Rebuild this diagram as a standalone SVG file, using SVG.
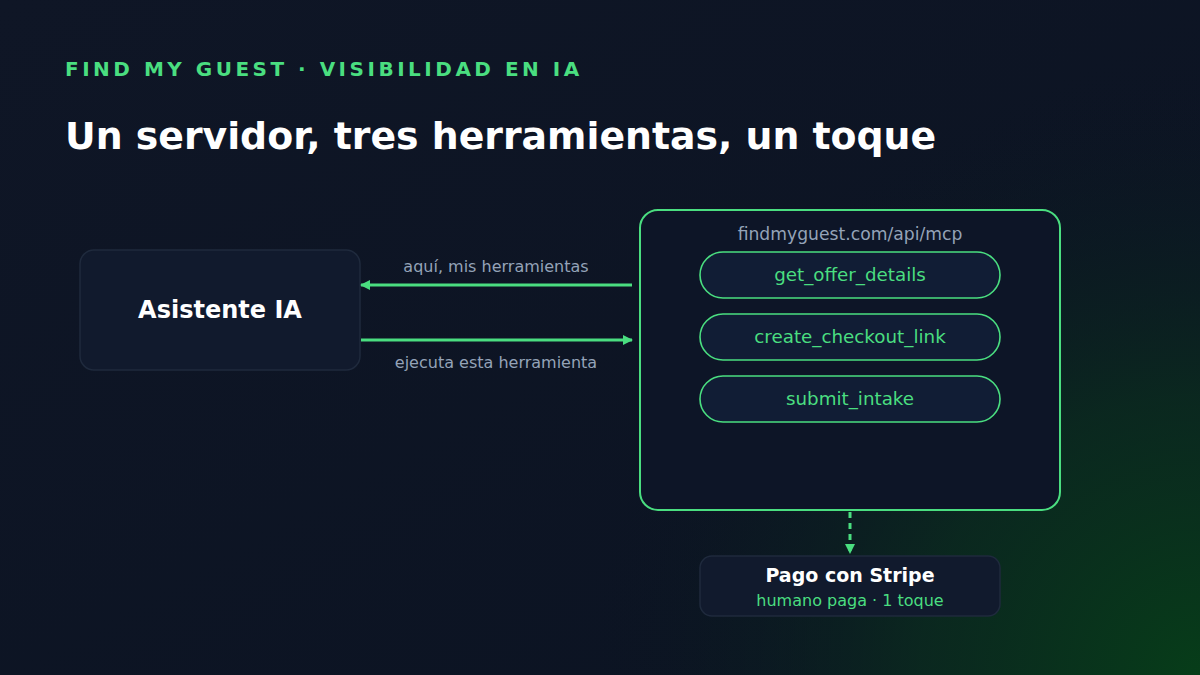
<svg xmlns="http://www.w3.org/2000/svg" width="1200" height="675" viewBox="0 0 1200 675">
  <defs>
    <linearGradient id="bg" x1="0" y1="0" x2="1" y2="1">
      <stop offset="0" stop-color="#0f1626"/>
      <stop offset="1" stop-color="#0b1322"/>
    </linearGradient>
    <radialGradient id="glow" cx="1200" cy="675" r="620" gradientUnits="userSpaceOnUse">
      <stop offset="0" stop-color="#073d19" stop-opacity="1"/>
      <stop offset="0.45" stop-color="#0a2e1e" stop-opacity="0.75"/>
      <stop offset="1" stop-color="#0b1322" stop-opacity="0"/>
    </radialGradient>
    <marker id="ah" viewBox="0 0 10 10" refX="9" refY="5" markerWidth="10" markerHeight="10" markerUnits="userSpaceOnUse" orient="auto">
      <path d="M0,0 L10,5 L0,10 z" fill="#4ade80"/>
    </marker>
    <style>
      .sans{font-family:"DejaVu Sans","Verdana",sans-serif;}
      .lbl{font-family:"DejaVu Sans",sans-serif;font-size:16px;fill:#94a3b8;text-anchor:middle;}
      .pill rect{fill:#111d35;stroke:#4ade80;stroke-width:1.6;}
      .pill text{font-family:"DejaVu Sans",sans-serif;font-size:18.3px;fill:#4ade80;text-anchor:middle;}
      .conn{stroke:#4ade80;stroke-width:3;fill:none;}
    </style>
  </defs>
  <rect width="1200" height="675" fill="url(#bg)"/>
  <rect width="1200" height="675" fill="url(#glow)"/>

  <text class="sans" x="65" y="76" font-size="20" font-weight="bold" fill="#4ade80" letter-spacing="3.5">FIND MY GUEST · VISIBILIDAD EN IA</text>
  <text class="sans" x="65" y="149" font-size="37.8" font-weight="bold" fill="#ffffff">Un servidor, tres herramientas, un toque</text>

  <g id="asistente">
    <rect x="80" y="250" width="280" height="120" rx="14" fill="#111a2d" stroke="#1f2a3d" stroke-width="1.5"/>
    <text class="sans" x="220" y="318" font-size="24" font-weight="bold" fill="#ffffff" text-anchor="middle">Asistente IA</text>
  </g>

  <g id="servidor">
    <rect x="640" y="210" width="420" height="300" rx="18" fill="#0d1527" stroke="#4ade80" stroke-width="2"/>
    <text class="sans" x="850" y="240" font-size="17.2" fill="#94a3b8" text-anchor="middle">findmyguest.com/api/mcp</text>
    <g id="tool1" class="pill">
      <rect x="700" y="252" width="300" height="46" rx="23"/>
      <text x="850" y="281">get_offer_details</text>
    </g>
    <g id="tool2" class="pill">
      <rect x="700" y="314" width="300" height="46" rx="23"/>
      <text x="850" y="343">create_checkout_link</text>
    </g>
    <g id="tool3" class="pill">
      <rect x="700" y="376" width="300" height="46" rx="23"/>
      <text x="850" y="405">submit_intake</text>
    </g>
  </g>

  <g id="stripe">
    <rect x="700" y="556" width="300" height="60" rx="12" fill="#111a2d" stroke="#1f2a3d" stroke-width="1.5"/>
    <text class="sans" x="850" y="582" font-size="19" font-weight="bold" fill="#ffffff" text-anchor="middle">Pago con Stripe</text>
    <text class="sans" x="850" y="606" font-size="16" fill="#4ade80" text-anchor="middle">humano paga · 1 toque</text>
  </g>

  <g id="connectors">
    <line class="conn" x1="632" y1="285" x2="361" y2="285" marker-end="url(#ah)"/>
    <text class="lbl" x="496" y="272">aquí, mis herramientas</text>
    <line class="conn" x1="361" y1="340" x2="632" y2="340" marker-end="url(#ah)"/>
    <text class="lbl" x="496" y="368">ejecuta esta herramienta</text>
    <line class="conn" x1="850" y1="512" x2="850" y2="553" stroke-dasharray="6 5" marker-end="url(#ah)"/>
  </g>
</svg>
